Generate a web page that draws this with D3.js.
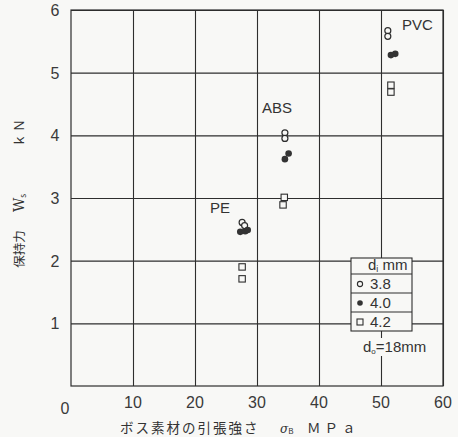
<!DOCTYPE html>
<html>
<head>
<meta charset="utf-8">
<script src="https://cdn.jsdelivr.net/npm/d3@7"></script>
<style>
  body { margin: 0; background: #f8f8f6; }
  svg { display: block; }
  .num { font-family: "Liberation Sans", Arial, sans-serif; font-size: 16px; fill: #3a3a3a; }
  .jp { font-family: "Noto Sans CJK JP", sans-serif; fill: #333; }
  .lab { font-family: "Liberation Sans", Arial, sans-serif; font-size: 15px; fill: #333; }
</style>
</head>
<body>
<div id="app"></div>
<script>
const W = 458, H = 437;

// tick values
const xTicks = [10, 20, 30, 40, 50, 60];
const yTicks = [1, 2, 3, 4, 5, 6];

// holding force W_s (kN) vs. boss tensile strength (MPa), by hole diameter d_i
const d38 = [[27.6, 2.61], [28.0, 2.56], [34.5, 4.04], [34.5, 3.95], [51.1, 5.67], [51.1, 5.58]];
const d40 = [[27.3, 2.46], [28.1, 2.47], [28.5, 2.49], [35.1, 3.71], [34.5, 3.62], [51.6, 5.28], [52.3, 5.3]];
const d42 = [[27.6, 1.9], [27.6, 1.71], [34.4, 3.01], [34.2, 2.89], [51.6, 4.8], [51.6, 4.69]];

// material names, placed in data units
const materials = ["PE", "ABS", "PVC"];
const materialPos = [[22.4, 2.76], [30.8, 4.35], [53.4, 5.68]];

const legendLabels = ["3.8", "4.0", "4.2"];

const svg = d3.select("#app").append("svg")
  .attr("width", W).attr("height", H);

const x = d3.scaleLinear().domain([0, 60]).range([71, 443]);
const y = d3.scaleLinear().domain([0, 6]).range([386, 10]);

const ink = "#2e2e2e";
const paper = "#f8f8f6";

// grid via axes
svg.append("g").attr("transform", `translate(0,${y(0)})`)
  .call(d3.axisBottom(x).tickValues(xTicks).tickSize(-(y(0) - y(6))).tickFormat(""));
svg.append("g").attr("transform", `translate(${x(0)},0)`)
  .call(d3.axisLeft(y).tickValues(yTicks).tickSize(-(x(60) - x(0))).tickFormat(""));
svg.selectAll(".domain").remove();
svg.selectAll(".tick line").attr("stroke", ink).attr("stroke-width", 1.1);

svg.append("rect")
  .attr("x", x(0)).attr("y", y(6))
  .attr("width", x(60) - x(0)).attr("height", y(0) - y(6))
  .attr("fill", "none").attr("stroke", ink).attr("stroke-width", 1.2);

// tick labels
svg.selectAll(".xl").data(xTicks).join("text")
  .attr("class", "num").attr("x", d => x(d)).attr("y", 408)
  .attr("text-anchor", "middle").text(d => d);
svg.selectAll(".yl").data(yTicks).join("text")
  .attr("class", "num").attr("x", 55).attr("y", d => y(d) + 6)
  .attr("text-anchor", "middle").text(d => d);
svg.append("text").attr("class", "num").attr("x", 65).attr("y", 414)
  .attr("text-anchor", "middle").text("0");

// axis titles
const xt = svg.append("text").attr("class", "jp").attr("y", 433).attr("font-size", 13.5);
xt.append("tspan").attr("x", 120).attr("letter-spacing", 2).text("ボス素材の引張強さ");
xt.append("tspan").attr("x", 280).attr("font-family", "DejaVu Serif").attr("font-style", "italic").attr("font-size", 12).text("σ");
xt.append("tspan").attr("font-size", 8).attr("dy", 1).text("B");
xt.append("tspan").attr("x", 307).attr("dy", -1).attr("letter-spacing", 4).text("ＭＰａ");

const yt = svg.append("g").attr("transform", "translate(24,0)");
yt.append("text").attr("class", "jp").attr("font-size", 12.5)
  .attr("transform", "translate(0,249) rotate(-90)").attr("text-anchor", "middle").text("保持力");
const ws = yt.append("text").attr("class", "jp").attr("font-size", 14)
  .attr("transform", "translate(0,203) rotate(-90)").attr("text-anchor", "middle");
ws.append("tspan").attr("font-family", "DejaVu Serif").text("W");
ws.append("tspan").attr("font-size", 8).attr("dy", 2).text("s");
yt.append("text").attr("class", "jp").attr("font-size", 13)
  .attr("transform", "translate(0,132) rotate(-90)").attr("text-anchor", "middle")
  .attr("letter-spacing", 2).text("ｋＮ");

// markers
const plot = svg.append("g");
plot.selectAll(".o").data(d38).join("circle")
  .attr("cx", d => x(d[0])).attr("cy", d => y(d[1])).attr("r", 3)
  .attr("fill", paper).attr("stroke", ink).attr("stroke-width", 1.2);
plot.selectAll(".f").data(d40).join("circle")
  .attr("cx", d => x(d[0])).attr("cy", d => y(d[1])).attr("r", 3.3)
  .attr("fill", "#333");
plot.selectAll(".s").data(d42).join("rect")
  .attr("x", d => x(d[0]) - 3.2).attr("y", d => y(d[1]) - 3.2)
  .attr("width", 6.4).attr("height", 6.4)
  .attr("fill", paper).attr("stroke", ink).attr("stroke-width", 1.1);

plot.selectAll(".m").data(materials).join("text")
  .attr("class", "lab")
  .attr("x", (d, i) => x(materialPos[i][0])).attr("y", (d, i) => y(materialPos[i][1]))
  .text(d => d);

// legend
const lg = svg.append("g");
lg.append("rect").attr("x", 351).attr("y", 258).attr("width", 61).attr("height", 73)
  .attr("fill", paper).attr("stroke", ink).attr("stroke-width", 1.1);
const rowTop = [274, 293, 312];
lg.selectAll(".rl").data(rowTop).join("line")
  .attr("x1", 351).attr("x2", 412).attr("y1", d => d).attr("y2", d => d)
  .attr("stroke", ink).attr("stroke-width", 1.1);
const hd = lg.append("text").attr("class", "lab").attr("font-size", 14)
  .attr("x", 368).attr("y", 270);
hd.append("tspan").text("d");
hd.append("tspan").attr("font-size", 9).attr("dy", 2).text("i");
hd.append("tspan").attr("dy", -2).text(" mm");
lg.append("circle").attr("cx", 360).attr("cy", 284).attr("r", 2.6)
  .attr("fill", "none").attr("stroke", ink).attr("stroke-width", 1.1);
lg.append("circle").attr("cx", 360).attr("cy", 303).attr("r", 2.8).attr("fill", "#333");
lg.append("rect").attr("x", 357).attr("y", 319).attr("width", 6).attr("height", 6)
  .attr("fill", "none").attr("stroke", ink).attr("stroke-width", 1.1);
lg.selectAll(".lt").data(legendLabels).join("text")
  .attr("class", "lab").attr("font-size", 14)
  .attr("x", 370).attr("y", (d, i) => rowTop[i] + 15).text(d => d);

// d0 note on a paper-coloured patch
lg.append("rect").attr("x", 360).attr("y", 338).attr("width", 66).attr("height", 18).attr("fill", paper);
const d0 = lg.append("text").attr("class", "lab").attr("font-size", 14)
  .attr("x", 363).attr("y", 352);
d0.append("tspan").text("d");
d0.append("tspan").attr("font-size", 8).attr("dy", 2).text("o");
d0.append("tspan").attr("dy", -2).text("=18mm");
</script>
</body>
</html>
